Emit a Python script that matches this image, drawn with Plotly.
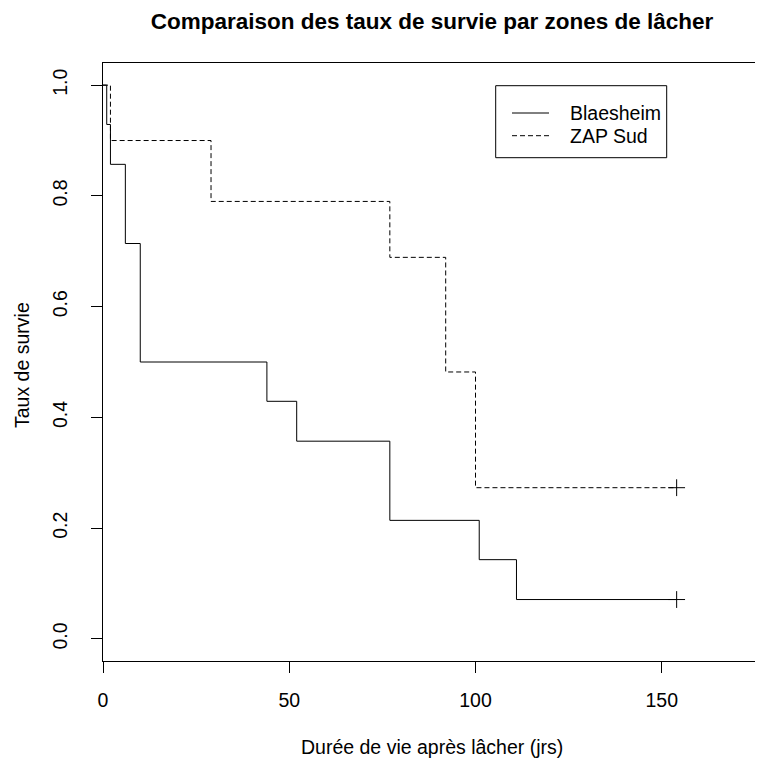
import plotly.graph_objects as go

# Kaplan-Meier step data
bl_times = [0, 1, 2, 6, 10, 44, 52, 77, 101, 111, 154]
bl_surv = [1.0, 0.929, 0.857, 0.714, 0.5, 0.429, 0.357, 0.214, 0.143, 0.071, 0.071]
zap_times = [0, 2, 29, 77, 92, 100, 154]
zap_surv = [1.0, 0.9, 0.79, 0.689, 0.482, 0.273, 0.273]
bl_censor_t = [154]
bl_censor_s = [0.071]
zap_censor_t = [154]
zap_censor_s = [0.273]

series_names = ["Blaesheim", "ZAP Sud"]
x_ticks = [0, 50, 100, 150]
y_ticks = [0.0, 0.2, 0.4, 0.6, 0.8, 1.0]
y_tick_text = ["0.0", "0.2", "0.4", "0.6", "0.8", "1.0"]

FONT = "Liberation Sans, Arial, sans-serif"
FS = 19.5

# figure sits inside the page's 8px body margin
W, H = 755, 750
ML, MR, MT = 95, 0, 55
PLOT_BOTTOM = 653
MB = H - PLOT_BOTTOM
PW, PH = W - ML - MR, H - MT - MB


def px(fx):
    return (fx - ML) / PW


def py(fy):
    return (PLOT_BOTTOM - fy) / PH


fig = go.Figure()
fig.add_trace(go.Scatter(x=bl_times, y=bl_surv, mode="lines", line_shape="hv",
                         line=dict(color="black", width=1), name=series_names[0],
                         showlegend=False))
fig.add_trace(go.Scatter(x=zap_times, y=zap_surv, mode="lines", line_shape="hv",
                         line=dict(color="black", width=1, dash="5px,3px"),
                         name=series_names[1], showlegend=False))
fig.add_trace(go.Scatter(x=bl_censor_t + zap_censor_t, y=bl_censor_s + zap_censor_s,
                         mode="markers", showlegend=False,
                         marker=dict(symbol="cross-thin", size=12,
                                     line=dict(color="black", width=1))))

# manual legend (R-style box)
lx0, lx1 = px(487.7), px(658.7)
ly0, ly1 = py(149.7), py(77.7)
row_y = [py(105), py(127.7)]
line_x0, line_x1 = px(504), px(541)
text_x = px(560)
shapes = [dict(type="rect", xref="paper", yref="paper", x0=lx0, x1=lx1, y0=ly0, y1=ly1,
               line=dict(color="black", width=1), fillcolor="white", layer="above")]
dashes = ["solid", "5px,3px"]
annotations = []
for i, nm in enumerate(series_names):
    shapes.append(dict(type="line", xref="paper", yref="paper", x0=line_x0, x1=line_x1,
                       y0=row_y[i], y1=row_y[i], line=dict(color="black", width=1, dash=dashes[i])))
    annotations.append(dict(text=nm, xref="paper", yref="paper", x=text_x, y=row_y[i],
                            xanchor="left", yanchor="middle", showarrow=False,
                            font=dict(family=FONT, size=FS, color="black")))

annotations += [
    dict(text="Durée de vie après lâcher (jrs)", xref="paper", yref="paper",
         x=px(424), y=0, yshift=-86, xanchor="center", yanchor="middle",
         showarrow=False, font=dict(family=FONT, size=FS, color="black")),
    dict(text="Taux de survie", xref="paper", yref="paper",
         x=0, xshift=-81, y=py(357), xanchor="center", yanchor="middle",
         textangle=-90, showarrow=False, font=dict(family=FONT, size=FS, color="black")),
]

fig.update_layout(
    width=W, height=H,
    margin=dict(l=ML, r=MR, t=MT, b=MB),
    paper_bgcolor="white", plot_bgcolor="white",
    font=dict(family=FONT, size=FS, color="black"),
    title=dict(text="<b>Comparaison des taux de survie par zones de lâcher</b>",
               x=424 / W, xanchor="center", y=1 - 13 / H, yanchor="middle",
               font=dict(family=FONT, size=22.5, color="black")),
    showlegend=False,
    xaxis=dict(range=[0, PW / 3.725], tickvals=x_ticks, ticks="outside", ticklen=11,
               tickcolor="black", showline=True, linecolor="black", linewidth=1,
               mirror=True, showgrid=False, zeroline=False, ticklabelstandoff=11,
               tickfont=dict(family=FONT, size=FS, color="black")),
    yaxis=dict(range=[-0.04, 1.04], tickvals=y_ticks, ticktext=y_tick_text,
               ticks="outside", ticklen=11, tickcolor="black", tickangle=-90,
               showline=True, linecolor="black", linewidth=1, mirror=False,
               showgrid=False, zeroline=False, ticklabelstandoff=16,
               tickfont=dict(family=FONT, size=FS, color="black")),
    shapes=shapes,
    annotations=annotations,
)

fig.write_html("out.html")
